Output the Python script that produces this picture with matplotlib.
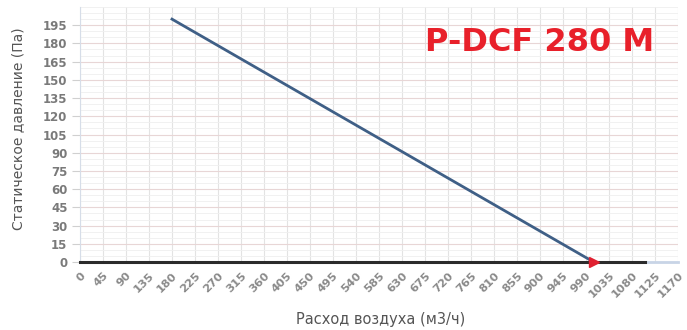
import matplotlib
matplotlib.use("Agg")
import matplotlib.pyplot as plt
import numpy as np

x_ticks = list(range(0, 1171, 45))
y_ticks = list(range(0, 196, 15))
curve_x = [180, 1005]
curve_y = [200, 0]
base_x = [0, 1105]
base_y = [0, 0]
op_x = [1005]
op_y = [0]
title = "P-DCF 280 M"
xlabel = "Расход воздуха (м3/ч)"
ylabel = "Статическое давление (Па)"

fig = plt.figure(figsize=(6.87, 3.30), dpi=100)
ax = fig.add_axes([80/687, 68/330, 598/687, 255/330])
ax.set_xlim(0, 1170)
ax.set_ylim(0, 210)

ax.set_xticks(x_ticks)
ax.set_yticks(y_ticks)
ax.set_yticks(np.arange(0, 211, 5), minor=True)
ax.set_xticklabels([str(v) for v in x_ticks], rotation=45, ha="right", va="top",
                   rotation_mode="anchor", fontsize=8.2, color="#8a8a8a", fontweight="bold")
ax.set_yticklabels([str(v) for v in y_ticks], fontsize=8.5, color="#7a7a7a", fontweight="bold")
ax.tick_params(axis="x", length=0, pad=6)
ax.tick_params(axis="y", length=6, color="#d0d0d0", pad=3)
ax.tick_params(axis="y", which="minor", length=0)

ax.grid(True, which="major", axis="y", color="#e8d6d6", lw=0.8)
ax.grid(True, which="minor", axis="y", color="#efefef", lw=0.6)
ax.grid(True, which="major", axis="x", color="#e3e3e3", lw=0.8)
ax.set_axisbelow(True)

for s in ["top", "right"]:
    ax.spines[s].set_visible(False)
ax.spines["left"].set_color("#d6dde8")
ax.spines["bottom"].set_color("#c8d4e6")
ax.spines["bottom"].set_linewidth(2)

ax.plot(base_x, base_y, color="#2b2b2b", lw=2.2, clip_on=False, zorder=3)
ax.plot(curve_x, curve_y, color="#3f5f86", lw=2, zorder=4, clip_on=False)
ax.plot(op_x, op_y, marker=">", color="#e02030", markersize=7, ls="none", zorder=5, clip_on=False)

fig.text(0.554, 0.008, xlabel, ha="center", va="bottom", fontsize=10.5, color="#555555")
fig.text(0.026, 0.609, ylabel, ha="center", va="center", rotation=90, fontsize=10, color="#555555")
fig.text(0.619, 0.872, title, ha="left", va="center", fontsize=23, fontweight="bold",
         color="#e8202a", family="DejaVu Sans")

fig.savefig("out.png", dpi=100)
